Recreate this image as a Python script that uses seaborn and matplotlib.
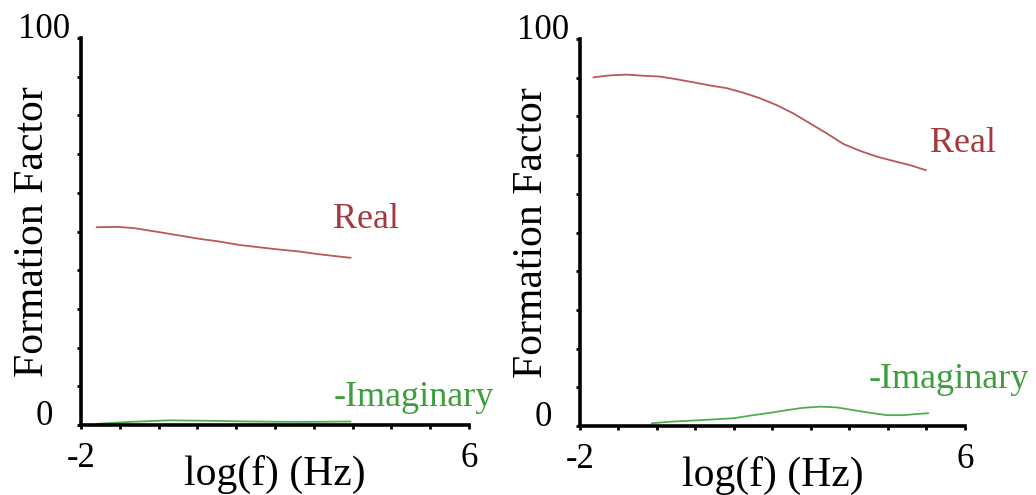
import numpy as np
import pandas as pd
import matplotlib
matplotlib.use("Agg")
import matplotlib.pyplot as plt
import seaborn as sns

# Formation factor spectra, log10 frequency (Hz) vs. value
left_real_logf = [-1.68, -1.26, -0.92, -0.37, 0.11, 0.45, 0.80, 1.28, 1.69,
                  2.04, 2.52, 2.86, 3.20, 3.56]
left_real_ff = [51.1, 51.2, 50.9, 49.8, 48.8, 48.1, 47.5, 46.5, 45.9,
                45.4, 44.8, 44.2, 43.7, 43.2]
left_imag_logf = [-1.68, -1.0, -0.2, 0.6, 1.5, 2.5, 3.56]
left_imag_ff = [0.3, 0.8, 1.2, 1.1, 0.9, 0.8, 0.9]

right_real_logf = [-1.72, -1.38, -1.03, -0.68, -0.34, 0.01, 0.36, 0.70, 1.05,
                   1.40, 1.74, 2.09, 2.43, 2.78, 3.13, 3.47, 3.82, 4.17,
                   4.51, 4.86, 5.19]
right_real_ff = [90.1, 90.6, 90.8, 90.5, 90.3, 89.6, 88.8, 88.0, 87.3,
                 86.1, 84.7, 82.9, 80.8, 78.2, 75.6, 72.9, 71.1, 69.6,
                 68.5, 67.4, 66.1]
right_imag_logf = [-0.51, -0.13, 0.56, 1.19, 1.60, 1.95, 2.30, 2.64, 2.99,
                   3.34, 3.68, 4.03, 4.38, 4.72, 5.00, 5.24]
right_imag_ff = [0.7, 1.1, 1.55, 2.0, 2.8, 3.4, 4.1, 4.7, 5.0,
                 4.8, 4.1, 3.4, 2.8, 2.8, 3.1, 3.3]

x_ticks = np.linspace(-2, 6, 11)
x_tick_labels = ["-2"] + [""] * 9 + ["6"]
y_ticks = np.arange(0, 101, 10)
y_tick_labels = ["0"] + [""] * 9 + ["100"]

REAL_LINE = "#b9575a"
REAL_TEXT = "#a3393c"
IMAG_LINE = "#52ad52"
IMAG_TEXT = "#3c9e3c"

sns.set_theme(style="ticks")
plt.rcParams["font.family"] = ["Liberation Serif", "DejaVu Serif"]

fig = plt.figure(figsize=(10.36, 4.95), dpi=100)
ax_l = fig.add_axes([0.0782, 0.1414, 0.3745, 0.7818])
ax_r = fig.add_axes([0.5598, 0.1394, 0.3716, 0.7818])


def draw_panel(ax, rx, ry, ix, iy, real_pos, imag_pos):
    real = pd.DataFrame({"logf": rx, "ff": ry})
    imag = pd.DataFrame({"logf": ix, "ff": iy})
    sns.lineplot(data=real, x="logf", y="ff", ax=ax, color=REAL_LINE,
                 linewidth=1.3, clip_on=False)
    sns.lineplot(data=imag, x="logf", y="ff", ax=ax, color=IMAG_LINE,
                 linewidth=1.3, clip_on=False)

    ax.set_xlim(-2, 6)
    ax.set_ylim(0, 100)
    for side in ("top", "right"):
        ax.spines[side].set_visible(False)
    for side in ("left", "bottom"):
        ax.spines[side].set_linewidth(2.6)
        ax.spines[side].set_color("black")

    ax.set_xticks(x_ticks)
    ax.set_xticklabels(x_tick_labels, fontsize=25)
    ax.set_yticks(y_ticks)
    ax.set_yticklabels(y_tick_labels, fontsize=25)
    ax.tick_params(axis="both", direction="out", length=3, width=2,
                   color="black", labelcolor="black")
    ax.tick_params(axis="y", pad=23.5)
    ax.tick_params(axis="x", pad=9)
    for lab in ax.get_yticklabels():
        lab.set_horizontalalignment("center")
        lab.set_verticalalignment("baseline")

    ax.set_xlabel("log(f) (Hz)", fontsize=30, color="black")
    ax.set_ylabel("Formation Factor", fontsize=30, color="black")
    ax.xaxis.set_label_coords(0.5, -0.077)
    ax.yaxis.set_label_coords(-0.075, 0.5)

    ax.text(*real_pos, "Real", color=REAL_TEXT, fontsize=26,
            ha="center", va="center", clip_on=False)
    ax.text(*imag_pos, "-Imaginary", color=IMAG_TEXT, fontsize=26,
            ha="center", va="center", clip_on=False)


draw_panel(ax_l, left_real_logf, left_real_ff, left_imag_logf, left_imag_ff,
           (3.88, 53.0), (4.87, 7.2))
draw_panel(ax_r, right_real_logf, right_real_ff, right_imag_logf, right_imag_ff,
           (5.96, 73.1), (5.67, 11.9))

fig.savefig("out.png", dpi=100, facecolor="white")
